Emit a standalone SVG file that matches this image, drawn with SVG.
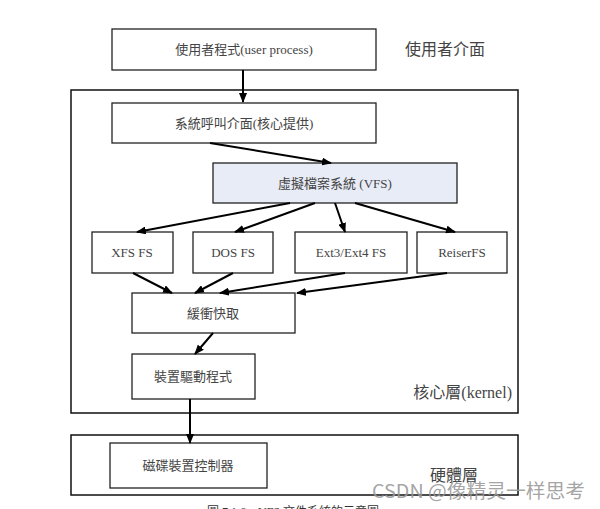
<svg xmlns="http://www.w3.org/2000/svg" width="600" height="509" viewBox="0 0 600 509">
<defs>
<marker id="ah" markerWidth="10" markerHeight="8" refX="9" refY="4" orient="auto" markerUnits="userSpaceOnUse">
<path d="M0,0 L10,4 L0,8 Z" fill="#000"/>
</marker>
<style>
.box{fill:#fff;stroke:#222;stroke-width:1.3}
.vfs{fill:#e8ecf6;stroke:#222;stroke-width:1.3}
.frame{fill:none;stroke:#111;stroke-width:1.5}
.t{font-family:"Liberation Serif","Noto Sans CJK TC",serif;font-size:13px;fill:#444;text-anchor:middle}
.lbl{font-family:"Liberation Serif","Noto Sans CJK TC",serif;font-size:16px;fill:#444}
.c{stroke:#000;stroke-width:2;fill:none;marker-end:url(#ah)}
</style>
</defs>
<rect width="600" height="509" fill="#fff"/>
<g id="kernel-layer">
<rect class="frame" x="71" y="90" width="447" height="323"/>
<text class="lbl" x="512" y="398" text-anchor="end">核心層(kernel)</text>
</g>
<g id="hardware-layer">
<rect class="frame" x="71" y="435" width="447" height="60"/>
<text class="lbl" x="430" y="481">硬體層</text>
</g>
<g id="user-process">
<rect class="box" x="112" y="29" width="264" height="41"/>
<text class="t" x="244" y="54">使用者程式(user process)</text>
</g>
<g id="user-interface-label">
<text class="lbl" x="405" y="55">使用者介面</text>
</g>
<g id="syscall">
<rect class="box" x="112" y="103" width="264" height="40"/>
<text class="t" x="244" y="128">系統呼叫介面(核心提供)</text>
</g>
<g id="vfs">
<rect class="vfs" x="213" y="163" width="244" height="40"/>
<text class="t" x="335" y="188">虛擬檔案系統 (VFS)</text>
</g>
<g id="xfs">
<rect class="box" x="92" y="232" width="81" height="41"/>
<text class="t" x="132" y="257">XFS FS</text>
</g>
<g id="dos">
<rect class="box" x="193" y="232" width="80" height="41"/>
<text class="t" x="233" y="257">DOS FS</text>
</g>
<g id="ext">
<rect class="box" x="295" y="232" width="112" height="41"/>
<text class="t" x="351" y="257">Ext3/Ext4 FS</text>
</g>
<g id="reiser">
<rect class="box" x="417" y="232" width="90" height="41"/>
<text class="t" x="462" y="257">ReiserFS</text>
</g>
<g id="cache">
<rect class="box" x="132" y="293" width="163" height="40"/>
<text class="t" x="213" y="318">緩衝快取</text>
</g>
<g id="driver">
<rect class="box" x="132" y="354" width="123" height="45"/>
<text class="t" x="193" y="381">裝置驅動程式</text>
</g>
<g id="controller">
<rect class="box" x="110" y="443" width="157" height="45"/>
<text class="t" x="188" y="470">磁碟裝置控制器</text>
</g>
<g id="connectors">
<line class="c" x1="243" y1="70" x2="243" y2="102"/>
<line class="c" x1="210" y1="143" x2="331" y2="163"/>
<line class="c" x1="290" y1="203" x2="137" y2="232"/>
<line class="c" x1="315" y1="203" x2="235" y2="232"/>
<line class="c" x1="335" y1="203" x2="345" y2="232"/>
<line class="c" x1="355" y1="203" x2="455" y2="232"/>
<line class="c" x1="133" y1="273" x2="172" y2="293"/>
<line class="c" x1="233" y1="273" x2="195" y2="293"/>
<line class="c" x1="345" y1="273" x2="220" y2="293"/>
<line class="c" x1="447" y1="273" x2="297" y2="293"/>
<line class="c" x1="213" y1="333" x2="195" y2="354"/>
<line class="c" x1="190" y1="399" x2="190" y2="443"/>
</g>
<g id="watermark">
<text x="372" y="498" textLength="213" lengthAdjust="spacingAndGlyphs" font-family="'Noto Sans CJK SC','Noto Sans',sans-serif" font-size="19" fill="#999" fill-opacity="0.9">CSDN @像精灵一样思考</text>
</g>
<g id="caption">
<text x="293" y="516" text-anchor="middle" font-family="'Liberation Serif','Noto Sans CJK TC',serif" font-size="12" fill="#333">圖 7.1.6、VFS 文件系統的示意圖</text>
</g>
</svg>
